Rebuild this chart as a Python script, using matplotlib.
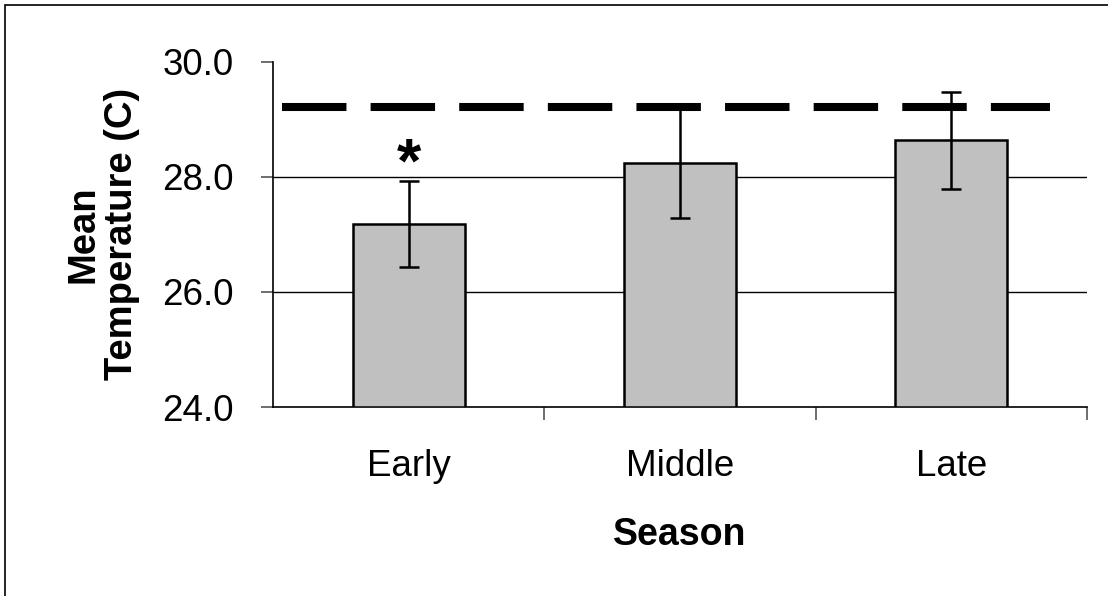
import matplotlib
matplotlib.use("Agg")
import matplotlib.pyplot as plt
from matplotlib.patches import Rectangle

plt.rcParams['font.family'] = ['Liberation Sans', 'DejaVu Sans']

# данные
seasons = ["Early", "Middle", "Late"]
means = [27.18, 28.24, 28.63]
errors = [0.75, 0.96, 0.84]
reference_temp = 29.21
y_ticks = [24.0, 26.0, 28.0, 30.0]

fig = plt.figure(figsize=(11.08, 5.96), dpi=100)
ax = fig.add_axes([0.2464, 0.3171, 0.7346, 0.5797])

x = list(range(len(seasons)))
ax.bar(x, [m - 24.0 for m in means], bottom=24.0, width=0.413,
       color="#c0c0c0", edgecolor="black", linewidth=1.8, zorder=3)
ax.errorbar(x, means, yerr=errors, fmt="none", ecolor="black",
            elinewidth=1.8, capsize=7, capthick=1.8, zorder=4)

# пунктирная линия
ax.axhline(reference_temp, xmin=0.011, xmax=0.955, color="black",
           linewidth=5.8, dashes=(8, 3), zorder=5)

# звездочка над первым столбцом
ax.text(x[0], means[0] + errors[0] - 0.02, "*", ha="center", va="baseline",
        fontsize=45, fontweight="bold", color="black")

ax.set_xlim(-0.5, len(seasons) - 0.5)
ax.set_ylim(y_ticks[0], y_ticks[-1])
ax.set_yticks(y_ticks)
ax.set_yticklabels([f"{t:.1f}" for t in y_ticks])
for t in y_ticks[1:-1]:
    ax.axhline(t, color="black", linewidth=1.0, zorder=1)

ax.set_xticks(x)
ax.set_xticklabels(seasons)
ax.set_xticks([i + 0.5 for i in x], minor=True)
ax.tick_params(axis="x", which="major", length=0, pad=30, labelsize=26.5)
ax.tick_params(axis="x", which="minor", length=9, width=1.2, color="#555555")
ax.tick_params(axis="y", length=9, width=1.2, color="#555555", pad=19,
               labelsize=26.5)

for s in ["top", "right"]:
    ax.spines[s].set_visible(False)
ax.spines["left"].set_linewidth(1.2)
ax.spines["bottom"].set_linewidth(1.2)

ax.set_xlabel("Season", fontsize=27, fontweight="bold", labelpad=24)
ax.set_ylabel("Mean\nTemperature (C)", fontsize=27.5, fontweight="bold",
              labelpad=16, linespacing=1.1)

# рамка рисунка
fig.patches.append(Rectangle((5 / 1108, -0.1), 1.2, 1.1 - 4.5 / 596,
                             transform=fig.transFigure, fill=False,
                             edgecolor="black", linewidth=1.2))

fig.savefig("out.png", dpi=100)
